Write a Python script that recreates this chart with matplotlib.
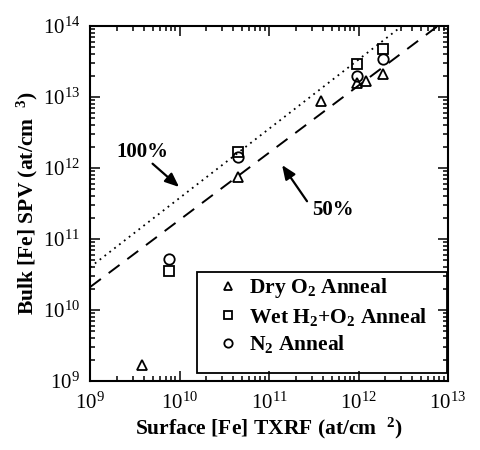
import math
import matplotlib
matplotlib.use("Agg")
import matplotlib.pyplot as plt
from matplotlib.patches import Rectangle
from matplotlib.ticker import LogLocator, NullFormatter, FuncFormatter

plt.rcParams['font.family'] = ['Liberation Serif', 'DejaVu Serif']
plt.rcParams['mathtext.fontset'] = 'custom'
plt.rcParams['mathtext.rm'] = 'Liberation Serif'
plt.rcParams['mathtext.bf'] = 'Liberation Serif:bold'
plt.rcParams['mathtext.default'] = 'regular'

# ---- data ----
dry_x = [3.8e9, 4.5e10, 3.8e11, 9.6e11, 1.2e12, 1.9e12]
dry_y = [1.7e9, 7.4e11, 8.7e12, 1.6e13, 1.7e13, 2.1e13]
wet_x = [7.6e9, 4.5e10, 9.6e11, 1.9e12]
wet_y = [3.6e10, 1.7e12, 2.9e13, 4.8e13]
n2_x = [7.6e9, 4.5e10, 9.6e11, 1.9e12]
n2_y = [5.3e10, 1.45e12, 2.0e13, 3.4e13]

line100_x = [1e9, 3.06e12]
line100_y = [4.0e10, 1e14]
line50_x = [1e9, 7.7e12]
line50_y = [2.1e10, 1e14]

x_ticks = [1e9, 1e10, 1e11, 1e12, 1e13]
y_ticks = [1e9, 1e10, 1e11, 1e12, 1e13, 1e14]

legend_labels = [r'Dry O$_{\mathbf{2}}$ Anneal',
                 r'Wet H$_{\mathbf{2}}$+O$_{\mathbf{2}}$ Anneal',
                 r'N$_{\mathbf{2}}$ Anneal']
xlabel = r'Surface [Fe] TXRF (at/cm  $^{\mathbf{2}}$)'
ylabel = r'Bulk [Fe] SPV (at/cm  $^{\mathbf{3}}$)'

fig = plt.figure(figsize=(4.8, 4.5), dpi=100)
ax = fig.add_axes([90/480, 1-381/450, 358/480, 355/450])
ax.set_xscale('log')
ax.set_yscale('log')
ax.set_xlim(1e9, 1e13)
ax.set_ylim(1e9, 1e14)

ax.plot(line100_x, line100_y, color='black', linestyle=(0, (1, 2.4)), linewidth=1.3)
ax.plot(line50_x, line50_y, color='black', linestyle=(0, (7, 5)), linewidth=1.4)

mk = dict(linestyle='none', markerfacecolor='none', markeredgecolor='black',
          markeredgewidth=1.3, markersize=7.5)
ax.plot(dry_x, dry_y, marker='^', label=legend_labels[0], **mk)
ax.plot(wet_x, wet_y, marker='s', label=legend_labels[1], **mk)
ax.plot(n2_x, n2_y, marker='o', label=legend_labels[2], **mk)

ax.set_xticks(x_ticks)
ax.set_yticks(y_ticks)
fmt = FuncFormatter(lambda v, p: r'$10^{%d}$' % round(math.log10(v)))
ax.xaxis.set_major_formatter(fmt)
ax.yaxis.set_major_formatter(fmt)
for axis in (ax.xaxis, ax.yaxis):
    axis.set_minor_locator(LogLocator(base=10, subs=range(2, 10), numticks=20))
    axis.set_minor_formatter(NullFormatter())
ax.tick_params(which='both', direction='in', top=True, right=True, width=1.1)
ax.tick_params(which='major', length=7, labelsize=15)
ax.tick_params(axis='x', which='major', pad=8)
ax.tick_params(axis='y', which='major', pad=7)
ax.tick_params(which='minor', length=3.5)
for s in ax.spines.values():
    s.set_linewidth(1.5)

ax.set_xlabel(xlabel, fontsize=15.5, fontweight='bold')
ax.set_ylabel(ylabel, fontsize=15.5, fontweight='bold')
ax.xaxis.set_label_coords(0.5, -(416 - 381) / 355)
ax.yaxis.set_label_coords(-(90 - 40) / 358, 0.5)

# annotations
ax.text(3.8e9, 1.68e12, '100%', fontsize=15, fontweight='bold', ha='center', va='center')
ax.annotate('', xy=(9.9e9, 5.4e11), xytext=(5.0e9, 1.15e12),
            arrowprops=dict(arrowstyle='-|>,head_length=0.6,head_width=0.25', color='black', lw=1.6,
                            mutation_scale=14, shrinkA=0, shrinkB=0))
ax.text(5.2e11, 2.6e11, '50%', fontsize=15, fontweight='bold', ha='center', va='center')
ax.annotate('', xy=(1.4e11, 1.1e12), xytext=(2.66e11, 3.4e11),
            arrowprops=dict(arrowstyle='-|>,head_length=0.6,head_width=0.25', color='black', lw=1.6,
                            mutation_scale=14, shrinkA=0, shrinkB=0))

leg = ax.legend(loc='upper left', bbox_to_anchor=(197/480, 1-272/450),
                bbox_transform=fig.transFigure, borderaxespad=0,
                frameon=False,
                prop=dict(family='Liberation Serif', weight='bold', size=15.5),
                handletextpad=-0.25, labelspacing=0.25, borderpad=0.2,
                handlelength=2.48, markerscale=0.8)
# legend frame (fixed box as in the reference)
fig.patches.append(Rectangle((197/480, 1-373/450), 250/480, 101/450,
                             transform=fig.transFigure, fill=False,
                             edgecolor='black', linewidth=1.3, zorder=5))

fig.savefig('out.png', dpi=100)
